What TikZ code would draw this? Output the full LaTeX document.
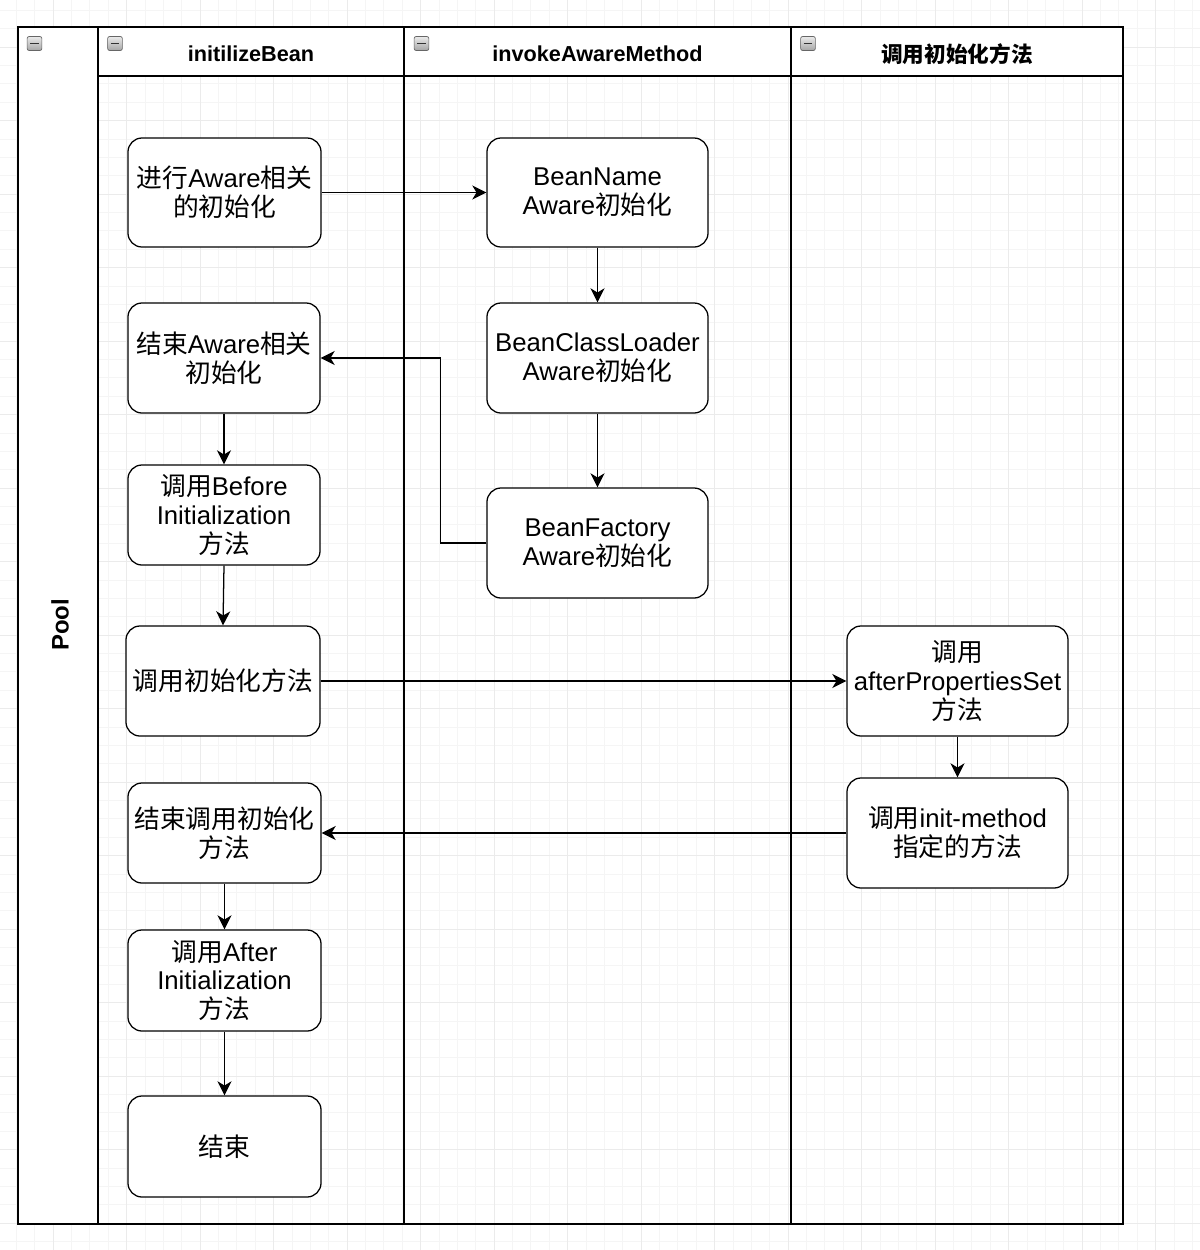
\documentclass[tikz,border=0pt]{standalone}
\usepackage{fontspec}
\setmainfont{Liberation Sans}
\newfontfamily\cjkfont{Noto Sans CJK SC}
\newcommand\zh[1]{{\cjkfont#1}}
\usetikzlibrary{arrows.meta}
\tikzset{
  gridminor/.style={draw=black!4, line width=0.4pt},
  gridmajor/.style={draw=black!8, line width=0.5pt},
  frame/.style={draw=black, line width=1pt},
  box/.style={draw=black, line width=0.9pt, rounded corners=10pt, fill=white,
    align=center, inner sep=0pt, font=\fontsize{18.3}{20.6}\selectfont},
  lanetitle/.style={font=\fontsize{15.4}{18}\selectfont\bfseries, inner sep=0pt},
  arr/.style={draw=black, line width=0.9pt, -{Stealth[length=10pt,width=10pt,inset=3pt]}},
  minus/.style={draw=black!60, line width=0.5pt, rounded corners=1.5pt,
    top color=black!8, bottom color=black!35, minimum width=10.5pt, minimum height=10pt, inner sep=0pt}
}
\begin{document}
\begin{tikzpicture}[x=0.025cm,y=-0.025cm]
\useasboundingbox (0,0) rectangle (1200,1250);
\fill[white] (0,0) rectangle (1200,1250);
% background grid
\foreach \i in {-3,...,62} {\draw[gridminor] ({53+18.375*\i},0) -- ++(0,1250);}
\foreach \i in {-3,...,70} {\draw[gridminor] (0,{47+18.375*\i}) -- ++(1200,0);}
\foreach \i in {-1,...,16} {\draw[gridmajor] ({53+73.5*\i},0) -- ++(0,1250);}
\foreach \i in {-1,...,17} {\draw[gridmajor] (0,{47+73.5*\i}) -- ++(1200,0);}
% pool and lanes
\fill[white] (18,27) rectangle (98,1224);
\fill[white] (98,27) rectangle (1123,76);
\draw[frame] (18,27) rectangle (1123,1224);
\draw[frame] (98,27) -- (98,1224);
\draw[frame] (404,27) -- (404,1224);
\draw[frame] (791,27) -- (791,1224);
\draw[frame] (98,76) -- (1123,76);
\node[rotate=90, font=\fontsize{17}{20}\selectfont\bfseries, inner sep=0pt] (pool) at (60,625) {Pool};
\node[lanetitle] (t1) at (251,54) {initilizeBean};
\node[lanetitle] (t2) at (597.5,54) {invokeAwareMethod};
\node[lanetitle] (t3) at (957,54) {\zh{调用初始化方法}};
% collapse icons
\foreach \n/\x in {m0/34.5, m1/115, m2/421.5, m3/808} {
  \node[minus] (\n) at (\x,43.5) {};
  \draw[black!80, line width=1.3pt] ([xshift=-3pt]\n.center) -- ([xshift=3pt]\n.center);
}
% nodes
\node[box, minimum width=4.825cm, minimum height=2.725cm] (A) at (224.5,192.5) {\zh{进行}Aware\zh{相关}\\\zh{的初始化}};
\node[box, minimum width=4.8cm, minimum height=2.75cm] (B) at (224,358) {\zh{结束}Aware\zh{相关}\\\zh{初始化}};
\node[box, minimum width=4.8cm, minimum height=2.5cm] (C) at (224,515) {\zh{调用}Before\\Initialization\\\zh{方法}};
\node[box, minimum width=4.85cm, minimum height=2.75cm] (D) at (223,681) {\zh{调用初始化方法}};
\node[box, minimum width=4.825cm, minimum height=2.5cm] (E) at (224.5,833) {\zh{结束调用初始化}\\\zh{方法}};
\node[box, minimum width=4.825cm, minimum height=2.525cm] (F) at (224.5,980.5) {\zh{调用}After\\Initialization\\\zh{方法}};
\node[box, minimum width=4.825cm, minimum height=2.525cm] (G) at (224.5,1146.5) {\zh{结束}};
\node[box, minimum width=5.525cm, minimum height=2.725cm] (H) at (597.5,192.5) {BeanName\\Aware\zh{初始化}};
\node[box, minimum width=5.525cm, minimum height=2.75cm] (I) at (597.5,358) {BeanClassLoader\\Aware\zh{初始化}};
\node[box, minimum width=5.525cm, minimum height=2.75cm] (J) at (597.5,543) {BeanFactory\\Aware\zh{初始化}};
\node[box, minimum width=5.525cm, minimum height=2.75cm] (K) at (957.5,681) {\zh{调用}\\afterPropertiesSet\\\zh{方法}};
\node[box, minimum width=5.525cm, minimum height=2.75cm] (L) at (957.5,833) {\zh{调用}init-method\\\zh{指定的方法}};
% connectors
\draw[arr] (A.east) -- (H.west);
\draw[arr] (H.south) -- (I.north);
\draw[arr] (I.south) -- (J.north);
\draw[arr] (J.west) -- ++(-46,0) |- (B.east);
\draw[arr] (B.south) -- (C.north);
\draw[arr] (C.south) -- (D.north);
\draw[arr] (D.east) -- (K.west);
\draw[arr] (K.south) -- (L.north);
\draw[arr] (L.west) -- (E.east);
\draw[arr] (E.south) -- (F.north);
\draw[arr] (F.south) -- (G.north);
\end{tikzpicture}
\end{document}
